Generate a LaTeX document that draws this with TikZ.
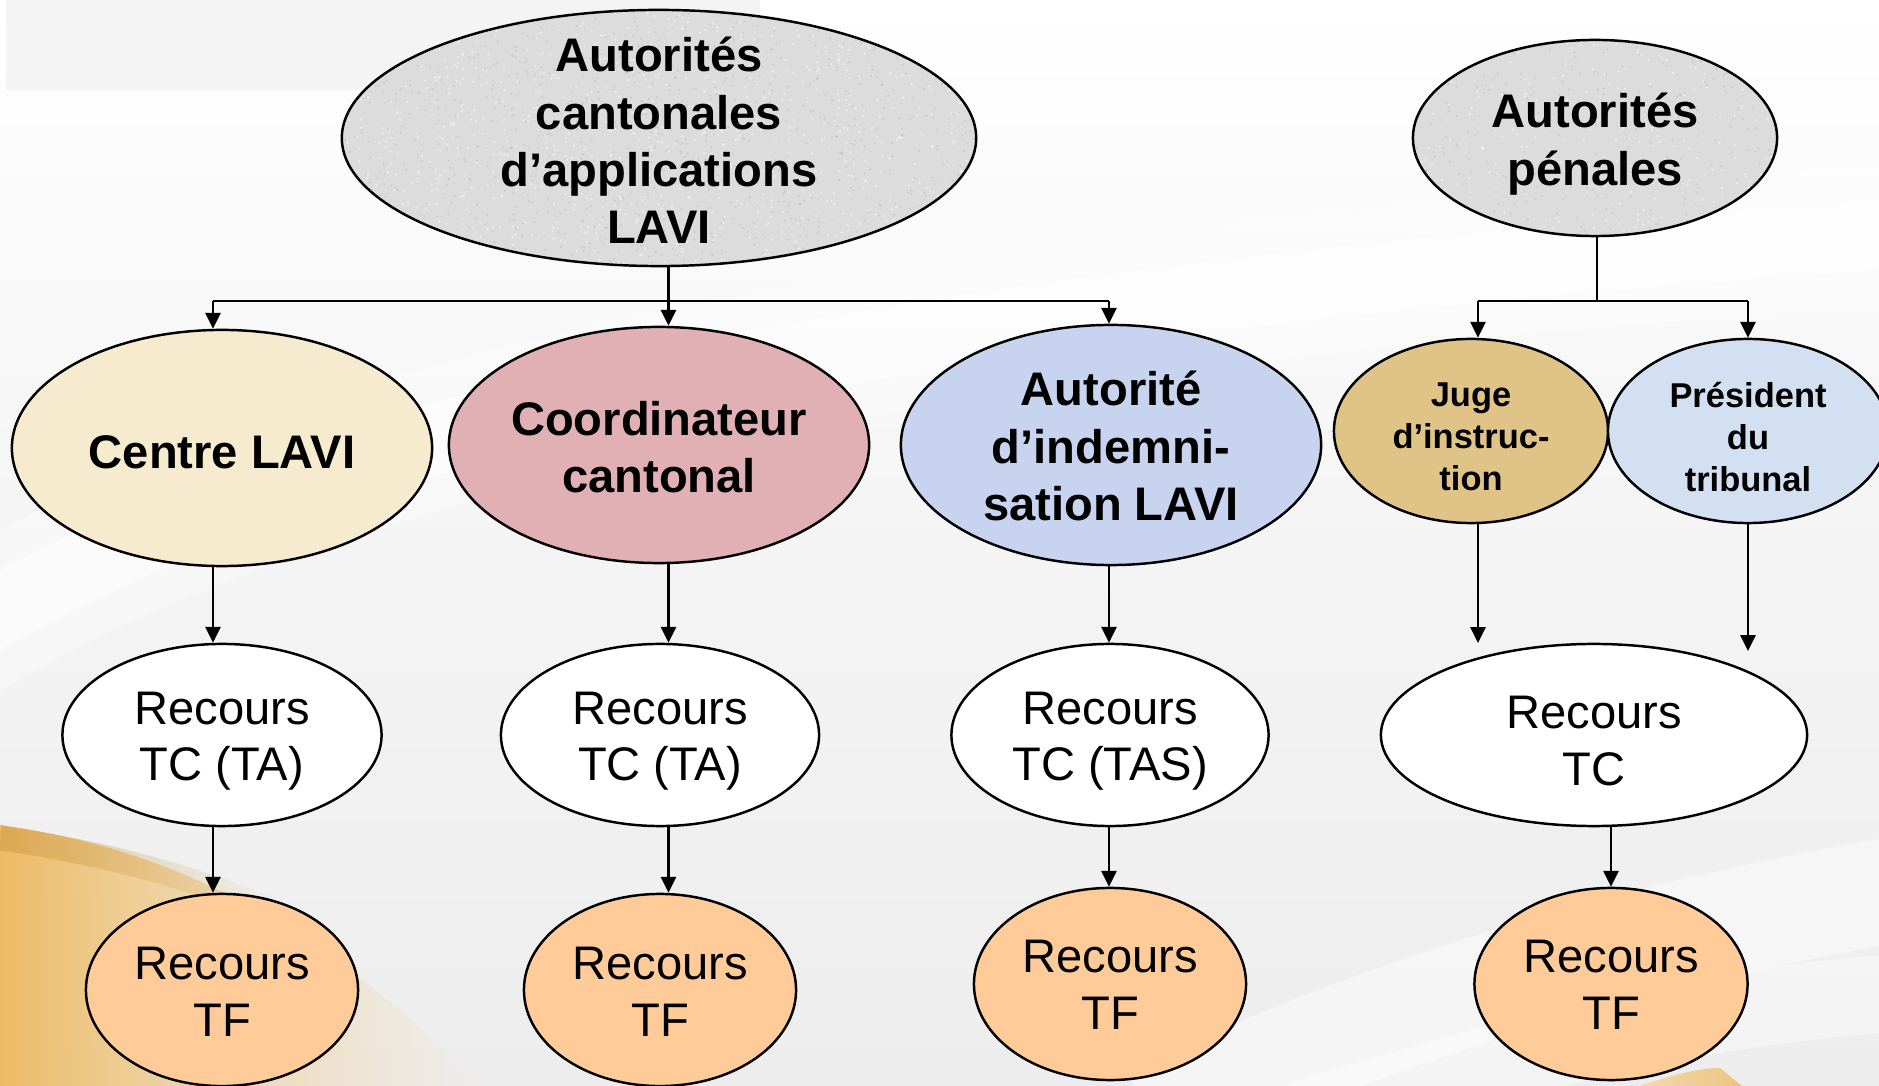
\documentclass[tikz,border=0pt]{standalone}
\usepackage{fontspec}
\setmainfont{Liberation Sans}
\usetikzlibrary{shapes.geometric,arrows.meta,fadings}
\definecolor{bggray}{HTML}{EDEDED}
\definecolor{rectgray}{HTML}{F4F4F4}
\definecolor{granite}{HTML}{DCDCDC}
\definecolor{cream}{HTML}{F7EBCF}
\definecolor{rose}{HTML}{E0B0B5}
\definecolor{lavender}{HTML}{C8D3F0}
\definecolor{tan}{HTML}{DFC387}
\definecolor{paleblue}{HTML}{D2E0F1}
\definecolor{peach}{HTML}{FFCC99}
\definecolor{goldA}{HTML}{EDBB66}
\definecolor{goldB}{HTML}{F3D49E}
\definecolor{goldEdge}{HTML}{C8963E}
\pgfmathsetseed{7}
\begin{document}
\begin{tikzpicture}[x=0.01cm,y=-0.01cm,
  ell/.style={ellipse, draw=black, line width=0.7pt, inner sep=0pt},
  speckle/.style={path picture={
    \foreach \k in {1,...,#1} {
      \fill[black!40, opacity=0.25] ([xshift={rnd*7cm}, yshift={rnd*3cm}]path picture bounding box.south west) circle (0.35pt);
      \fill[white, opacity=0.45] ([xshift={rnd*7cm}, yshift={rnd*3cm}]path picture bounding box.south west) circle (0.4pt);
    }}},
  tx/.style={align=center, inner sep=0pt},
  big/.style={tx, font=\bfseries\fontsize{13.4}{16.3}\selectfont},
  reg/.style={tx, font=\fontsize{13.4}{16.1}\selectfont},
  small/.style={tx, font=\bfseries\fontsize{9.8}{11.9}\selectfont},
  conn/.style={line width=0.6pt, draw=black},
  arr/.style={conn, -{Triangle[width=4.3pt,length=4.5pt]}},
]
\useasboundingbox (0,0) rectangle (1879,1086);
% background
\shade[top color=white, bottom color=bggray, middle color=bggray!60!white] (0,0) rectangle (1879,1086);
\fill[rectgray] (6,0) rectangle (760,90);
\draw[white, line width=40pt, opacity=0.35, line cap=round] (-50,640) .. controls (300,420) and (900,300) .. (1950,230);
\draw[white, line width=20pt, opacity=0.5, line cap=round] (-50,640) .. controls (300,420) and (900,300) .. (1950,230);
\draw[white, line width=30pt, opacity=0.45] (1150,1120) .. controls (1400,1000) and (1650,930) .. (1950,880);
\draw[white, line width=22pt, opacity=0.4] (1300,1120) .. controls (1500,1060) and (1700,1000) .. (1950,990);
\shade[left color=goldA, right color=goldB, path fading=east] (0,825) .. controls (140,845) and (300,900) .. (480,1086) -- (0,1086) -- cycle;
\draw[goldEdge, line width=7pt, opacity=0.5, path fading=east] (0,838) .. controls (90,851) and (180,872) .. (270,910);
\shade[left color=goldB, right color=goldA, opacity=0.8] (1640,1086) .. controls (1675,1074) and (1700,1068) .. (1720,1068) -- (1742,1086) -- cycle;

% nodes
\node[ell, fill=granite, speckle=1200, minimum width=6.34cm, minimum height=2.56cm,
  label={[big, yshift=-0.025cm]center:{Autorités\\cantonales\\d’applications\\LAVI}}] (top) at (659,138) {};
\node[ell, fill=granite, speckle=700, minimum width=3.64cm, minimum height=1.96cm,
  label={[big, yshift=-0.06cm]center:{Autorités\\pénales}}] (pen) at (1595,138) {};

\node[ell, fill=cream, minimum width=4.2cm, minimum height=2.36cm,
  label={[big, yshift=-0.04cm]center:{Centre LAVI}}] (centre) at (222,448) {};
\node[ell, fill=rose, minimum width=4.2cm, minimum height=2.36cm,
  label={[big, yshift=-0.02cm]center:{Coordinateur\\cantonal}}] (coord) at (659,445) {};
\node[ell, fill=lavender, minimum width=4.2cm, minimum height=2.4cm,
  label={[big, yshift=-0.01cm]center:{Autorité\\d’indemni-\\sation LAVI}}] (indem) at (1111,445) {};
\node[ell, fill=tan, minimum width=2.74cm, minimum height=1.84cm,
  label={[small, yshift=-0.06cm]center:{Juge\\d’instruc-\\tion}}] (juge) at (1471,431) {};
\node[ell, fill=paleblue, minimum width=2.8cm, minimum height=1.84cm,
  label={[small, yshift=-0.06cm]center:{Président\\du\\tribunal}}] (pres) at (1748,431) {};

\node[ell, fill=white, minimum width=3.19cm, minimum height=1.82cm,
  label={[reg, yshift=-0.06cm]center:{Recours\\TC (TA)}}] (tc1) at (222,735) {};
\node[ell, fill=white, minimum width=3.18cm, minimum height=1.82cm,
  label={[reg, yshift=-0.06cm]center:{Recours\\TC (TA)}}] (tc2) at (660,735) {};
\node[ell, fill=white, minimum width=3.17cm, minimum height=1.82cm,
  label={[reg, yshift=-0.06cm]center:{Recours\\TC (TAS)}}] (tc3) at (1110,735) {};
\node[ell, fill=white, minimum width=4.26cm, minimum height=1.82cm,
  label={[reg, yshift=-0.06cm]center:{Recours\\TC}}] (tc4) at (1594,735) {};

\node[ell, fill=peach, minimum width=2.72cm, minimum height=1.92cm,
  label={[reg, yshift=-0.02cm]center:{Recours\\TF}}] (tf1) at (222,990) {};
\node[ell, fill=peach, minimum width=2.72cm, minimum height=1.92cm,
  label={[reg, yshift=-0.02cm]center:{Recours\\TF}}] (tf2) at (660,990) {};
\node[ell, fill=peach, minimum width=2.72cm, minimum height=1.92cm,
  label={[reg, yshift=-0.01cm]center:{Recours\\TF}}] (tf3) at (1110,984) {};
\node[ell, fill=peach, minimum width=2.73cm, minimum height=1.92cm,
  label={[reg, yshift=-0.01cm]center:{Recours\\TF}}] (tf4) at (1611,984) {};

% bus coordinates
\coordinate (b1) at (213,301);
\coordinate (b2) at (668.5,301);
\coordinate (b3) at (1109,301);
\coordinate (p1) at (1478,301);
\coordinate (p0) at (1597,301);
\coordinate (p2) at (1748,301);
\coordinate (e1) at (1478,643);
\coordinate (e2) at (1748,651);

% connectors, left tree
\draw[conn] (top.south -| b2) -- (b2);
\draw[conn] (b1) -- (b3);
\draw[arr] (b1) -- (centre.north -| b1);
\draw[arr] (b2) -- (coord.north -| b2);
\draw[arr] (b3) -- (indem.north -| b3);
\draw[arr] (centre.south -| b1) -- (tc1.north -| b1);
\draw[arr] (coord.south -| b2) -- (tc2.north -| b2);
\draw[arr] (indem.south -| b3) -- (tc3.north -| b3);
\draw[arr] (tc1.south -| b1) -- (tf1.north -| b1);
\draw[arr] (tc2.south -| b2) -- (tf2.north -| b2);
\draw[arr] (tc3.south -| b3) -- (tf3.north -| b3);

% right tree
\draw[conn] (pen.south -| p0) -- (p0);
\draw[conn] (p1) -- (p2);
\draw[arr] (p1) -- (juge.north -| p1);
\draw[arr] (p2) -- (pres.north -| p2);
\draw[arr] (juge.south -| p1) -- (e1);
\draw[arr] (pres.south -| p2) -- (e2);
\draw[arr] (tc4.south -| tf4) -- (tf4.north);
\end{tikzpicture}
\end{document}
